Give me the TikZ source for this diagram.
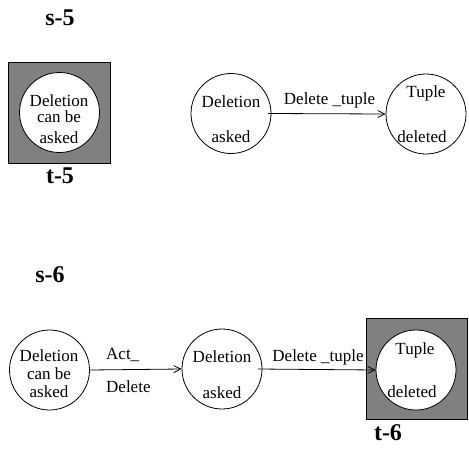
\documentclass[tikz,border=0pt]{standalone}
\usepackage{fontspec}
\setmainfont{Liberation Serif}
\usetikzlibrary{arrows.meta}
\begin{document}
\begin{tikzpicture}[x=1pt,y=-1pt,
  st/.style={circle,draw,line width=0.8pt,fill=white,minimum size=80pt,inner sep=0pt},
  sq/.style={draw,line width=0.8pt,fill=black!50},
  txt/.style={inner sep=0pt,font=\fontsize{17}{20}\selectfont},
  lbl/.style={inner sep=0pt,font=\fontsize{24}{28}\selectfont\bfseries},
  arr/.style={line width=0.8pt,-{Straight Barb[length=7pt,width=7pt,line width=0.8pt]}}]
\useasboundingbox (0,0) rectangle (469,450);
% top section
\node[lbl] (s5) at (60,18) {s-5};
\path[sq] (8,62) rectangle (110,163);
\node[st] (a) at (59.5,112.5) {};
\node[st] (b) at (231,113.5) {};
\node[st] (c) at (426,114) {};
\node[lbl] (t5) at (60,176) {t-5};
\node[txt] (a1) at (59,100.5) {Deletion};
\node[txt] (a2) at (59,116.5) {can be};
\node[txt] (a3) at (59,138) {asked};
\node[txt] (b1) at (231,102) {Deletion};
\node[txt] (b2) at (231,137) {asked};
\node[txt] (c1) at (426,93) {Tuple};
\node[txt] (c2) at (422,137) {deleted};
\coordinate (bs) at (268,113.5);
\draw[arr] (bs) -- (c.west);
\node[txt] (l1) at (329.5,100) {Delete \_tuple};
% bottom section
\node[lbl] (s6) at (50,275) {s-6};
\path[sq] (366,318) rectangle (467,419);
\node[st] (d) at (49.5,370) {};
\node[st] (e) at (222,369) {};
\node[st] (f) at (416,370) {};
\node[lbl] (t6) at (388,433) {t-6};
\node[txt] (d1) at (49,355.5) {Deletion};
\node[txt] (d2) at (49,373.5) {can be};
\node[txt] (d3) at (49,392) {asked};
\node[txt] (e1) at (222,357) {Deletion};
\node[txt] (e2) at (222,393) {asked};
\node[txt] (f1) at (415,350) {Tuple};
\node[txt] (f2) at (412,392) {deleted};
\draw[arr] (d.east) -- (e.west);
\coordinate (es) at (258,369);
\draw[arr] (es) -- (f.west);
\node[txt,anchor=west] (l2) at (106,355) {Act\_};
\node[txt,anchor=west] (l3) at (106,387) {Delete};
\node[txt] (l4) at (318,357) {Delete \_tuple};
\end{tikzpicture}
\end{document}
